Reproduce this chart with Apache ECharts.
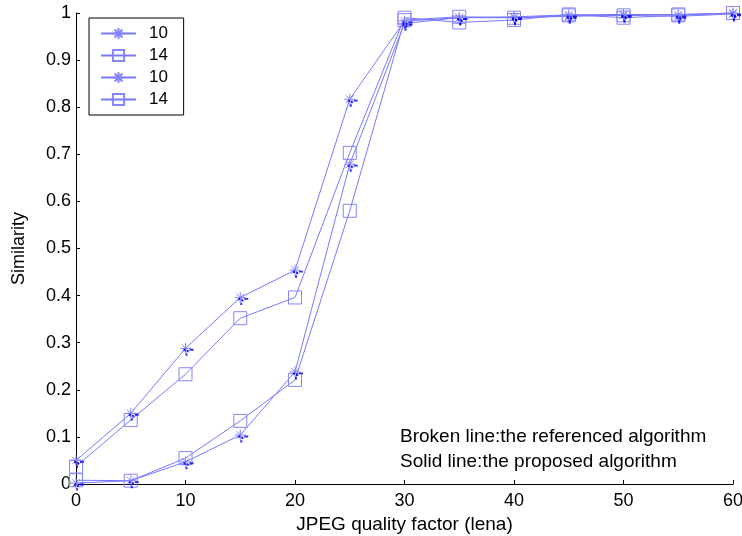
<!DOCTYPE html>
<html>
<head>
<meta charset="utf-8">
<script src="https://cdn.jsdelivr.net/npm/echarts@6/dist/echarts.min.js"></script>
<style>
  html, body { margin: 0; padding: 0; background: #fff; }
  #chart { width: 742px; height: 536px; }
</style>
</head>
<body>
<div id="chart"></div>
<script>
// JPEG quality factor (x) and similarity of each curve
var quality = [0, 5, 10, 15, 20, 25, 30, 35, 40, 45, 50, 55, 60]
var starUpper = [0.05, 0.15, 0.288, 0.396, 0.454, 0.817, 0.983, 0.99, 0.992, 0.996, 0.997, 0.996, 1.0]
var squareUpper = [0.037, 0.136, 0.233, 0.352, 0.396, 0.703, 0.99, 0.98, 0.985, 0.997, 0.99, 0.995, 1.0]
var starLower = [0.002, 0.007, 0.047, 0.104, 0.238, 0.679, 0.978, 0.99, 0.99, 0.993, 0.995, 0.993, 0.998]
var squareLower = [0.008, 0.007, 0.055, 0.134, 0.221, 0.58, 0.985, 0.992, 0.99, 0.995, 0.995, 0.997, 1.0]
var legendNames = ['10', '14', '10 ', '14 ']

var lineColor = '#7878ff'
var markColor = '#8585ff'
var dotColor = '#0000f0'
var font = 'Liberation Sans, Arial, sans-serif'

var asterisk = 'path://M0 5L10 5M5 0L5 10M1.5 1.5L8.5 8.5M8.5 1.5L1.5 8.5'
var dots = 'path://M0 0h2v2h-2zM3 1h2v2h-2zM6 0h4v1.6h-4zM2 4h2v2h-2z'

function pairs(ys) {
  return quality.map(function(q, i) { return [q, ys[i]] })
}

function lineSeries(name, ys, star) {
  return {
    name: name,
    type: 'line',
    data: pairs(ys),
    symbol: star ? asterisk : 'rect',
    symbolSize: star ? 11 : 13,
    showAllSymbol: true,
    itemStyle: {
      color: 'rgba(0,0,0,0)',
      borderColor: markColor,
      borderWidth: 1
    },
    lineStyle: { color: lineColor, width: 1 },
    emphasis: { disabled: true },
    z: 2
  }
}

function dotSeries(ys) {
  return {
    type: 'scatter',
    data: pairs(ys),
    symbol: dots,
    symbolSize: [10, 7],
    symbolOffset: [3, 4],
    itemStyle: { color: dotColor },
    silent: true,
    z: 3
  }
}

var chart = echarts.init(document.getElementById('chart'))
chart.setOption({
  backgroundColor: '#fff',
  animation: false,
  grid: {
    left: 76,
    right: 9,
    top: 13,
    bottom: 52,
    outerBoundsMode: 'none'
  },
  legend: {
    data: legendNames,
    left: 89,
    top: 18,
    orient: 'vertical',
    backgroundColor: '#fff',
    borderColor: '#000',
    borderWidth: 1,
    borderRadius: 0,
    padding: [7, 11, 7, 11],
    itemWidth: 35,
    itemHeight: 14,
    itemGap: 5,
    selectedMode: false,
    textStyle: { fontSize: 17, fontFamily: font, color: '#000', padding: [0, 0, 0, 8] }
  },
  xAxis: {
    type: 'value',
    min: 0,
    max: 60,
    interval: 10,
    name: 'JPEG quality factor (lena)',
    nameLocation: 'middle',
    nameGap: 26,
    nameTextStyle: { fontSize: 19, fontFamily: font, color: '#000' },
    axisLine: { lineStyle: { color: '#000' } },
    axisTick: { inside: true, length: 4, lineStyle: { color: '#000' } },
    axisLabel: { fontSize: 18, fontFamily: font, color: '#000', margin: 8 },
    splitLine: { show: false }
  },
  yAxis: {
    type: 'value',
    min: 0,
    max: 1,
    interval: 0.1,
    name: 'Similarity',
    nameLocation: 'middle',
    nameGap: 48,
    nameTextStyle: { fontSize: 18, fontFamily: font, color: '#000' },
    axisLine: { show: true, lineStyle: { color: '#000' } },
    axisTick: { show: true, inside: true, length: 4, lineStyle: { color: '#000' } },
    axisLabel: { fontSize: 18, fontFamily: font, color: '#000', margin: 5 },
    splitLine: { show: false }
  },
  graphic: [
    {
      type: 'text',
      left: 400,
      top: 427,
      style: { text: 'Broken line:the referenced algorithm', fontSize: 19, fontFamily: font, fill: '#000' }
    },
    {
      type: 'text',
      left: 400,
      top: 452,
      style: { text: 'Solid line:the proposed algorithm', fontSize: 19, fontFamily: font, fill: '#000' }
    }
  ],
  series: [
    lineSeries(legendNames[0], starUpper, true),
    lineSeries(legendNames[1], squareUpper, false),
    lineSeries(legendNames[2], starLower, true),
    lineSeries(legendNames[3], squareLower, false),
    dotSeries(starUpper),
    dotSeries(starLower)
  ]
})
</script>
</body>
</html>
